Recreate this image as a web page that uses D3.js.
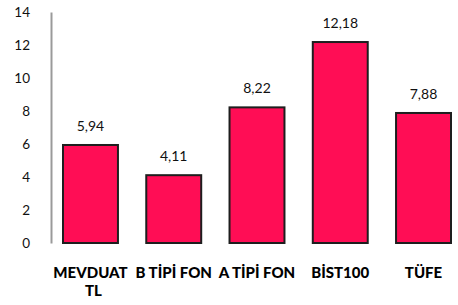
<!DOCTYPE html>
<html>
<head>
<meta charset="utf-8">
<script src="https://cdn.jsdelivr.net/npm/d3@7"></script>
<style>
	body { margin:0; background:#fff; }
	#chart { width:458px; height:305px; }
	.tick text { font-family: Lato, sans-serif; }
</style>
</head>
<body>
<div id="chart"></div>
<script>
var categories = ["MEVDUAT TL", "B TİPİ FON", "A TİPİ FON", "BİST100", "TÜFE"];
var values = [5.94, 4.11, 8.22, 12.18, 7.88];
var valueLabels = ["5,94", "4,11", "8,22", "12,18", "7,88"];
var yTicks = [0, 2, 4, 6, 8, 10, 12, 14];

var c = {
	padding: {l:51,b:62,t:12,r:7},
	w:458,
	h:305,
	svg:null
}

c.svg = d3.select('#chart').append('svg')
			.attr('width', c.w)
			.attr('height', c.h);

var data = categories.map((d,i)=>({cat:d, v:values[i], label:valueLabels[i]}));

var x_scale = d3.scaleBand()
					.domain(categories)
					.range([63, 451])
					.paddingInner(0.34)
					.paddingOuter(0);

var y_scale = d3.scaleLinear()
					.domain([0, 14])
					.range([c.h-c.padding.b, c.padding.t]);

// y axis
var y_axis = d3.axisLeft(y_scale).tickValues(yTicks).tickSize(0).tickPadding(21);
c.svg.append('g')
		.attr('class', 'axis y')
		.attr('transform', 'translate('+c.padding.l+',0)')
		.call(y_axis)
		.call(g => g.select('.domain').attr('stroke', '#9a9a9a').attr('stroke-width', 2))
		.call(g => g.selectAll('text').attr('font-size', '13.5px').attr('fill', '#111'));

// bars
c.svg.append('g')
		.attr('class', 'bars')
		.selectAll('rect')
		.data(data)
		.enter()
		.append('rect')
			.attr('x', d=>x_scale(d.cat))
			.attr('y', d=>y_scale(d.v))
			.attr('width', x_scale.bandwidth())
			.attr('height', d=>y_scale(0)-y_scale(d.v))
			.attr('fill', '#ff0d55')
			.attr('stroke', '#1e1e1e')
			.attr('stroke-width', 2);

// value labels
c.svg.append('g')
		.selectAll('text')
		.data(data)
		.enter()
		.append('text')
			.attr('x', d=>x_scale(d.cat)+x_scale.bandwidth()/2)
			.attr('y', d=>y_scale(d.v)-14)
			.attr('text-anchor', 'middle')
			.attr('font-family', 'Lato, sans-serif')
			.attr('font-size', '14px')
			.attr('fill', '#111')
			.text(d=>d.label);

// category labels, wrapped into separate lines
var step = x_scale.step();
var lineH = 18;
var labels = c.svg.append('g').attr('class', 'cat-labels');
data.forEach(function(d) {
	var cx = x_scale(d.cat)+x_scale.bandwidth()/2;
	var words = d.cat.split(' ');
	var lines = [];
	var line = [];
	var probe = labels.append('text')
			.attr('font-family', 'Lato, sans-serif')
			.attr('font-weight', 900)
			.attr('font-size', '15px');
	words.forEach(function(w) {
		line.push(w);
		probe.text(line.join(' '));
		if (probe.node().getComputedTextLength() > step && line.length > 1) {
			line.pop();
			lines.push(line.join(' '));
			line = [w];
		}
	});
	lines.push(line.join(' '));
	probe.remove();
	lines.forEach(function(l, i) {
		labels.append('text')
			.attr('x', cx + (i > 0 ? 3 : 0))
			.attr('y', 277.5 + i*lineH)
			.attr('text-anchor', 'middle')
			.attr('font-family', 'Lato, sans-serif')
			.attr('font-weight', 900)
			.attr('font-size', '15px')
			.attr('fill', '#000')
			.text(l);
	});
});
</script>
</body>
</html>
